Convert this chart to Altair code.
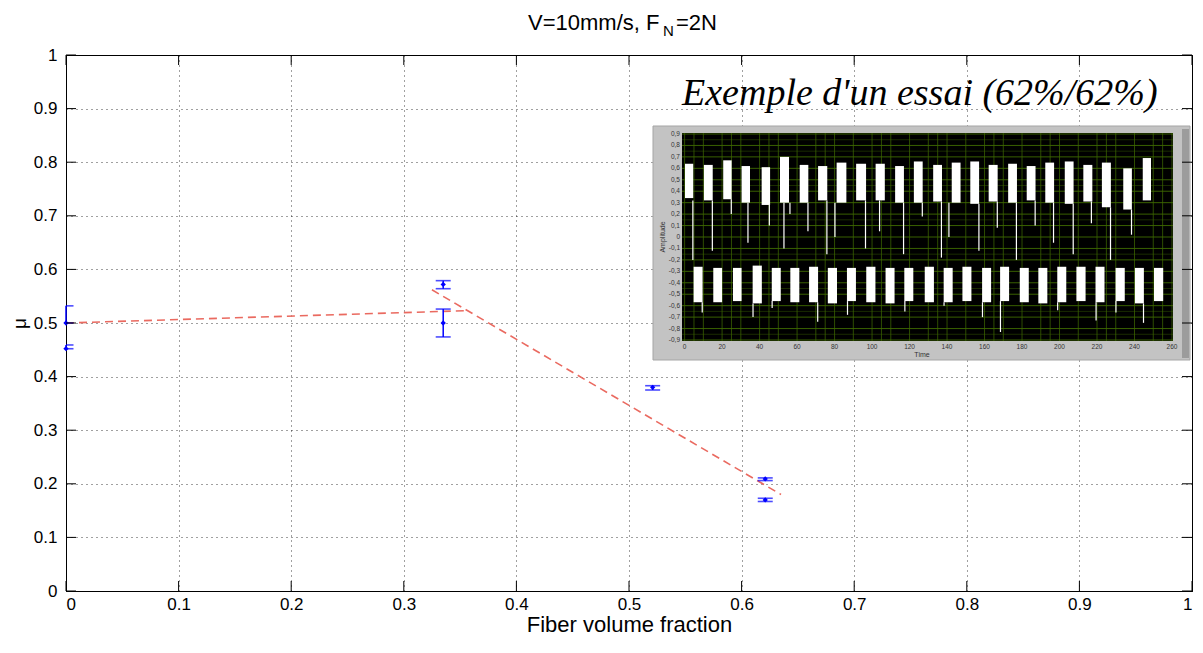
import altair as alt
import pandas as pd

# ---------------- main plot data ----------------
pt_x = [0.0, 0.0, 0.335, 0.335, 0.521, 0.621, 0.621]
pt_y = [0.500, 0.452, 0.572, 0.500, 0.380, 0.209, 0.170]
pt_lo = [0.500, 0.452, 0.564, 0.474, 0.375, 0.206, 0.167]
pt_hi = [0.532, 0.459, 0.579, 0.526, 0.383, 0.211, 0.173]

fit1_x = [0.0, 0.355]
fit1_y = [0.500, 0.523]
fit2_x = [0.325, 0.635]
fit2_y = [0.562, 0.180]

tick_vals = [0, 0.1, 0.2, 0.3, 0.4, 0.5, 0.6, 0.7, 0.8, 0.9, 1]

title_main = "V=10mm/s, F"
title_sub = "N"
title_end = "=2N"
x_title = "Fiber volume fraction"
y_title = "\u03bc"
inset_title = "Exemple d'un essai (62%/62%)"

# ---------------- inset (signal screenshot) data ----------------
up_t0 = [0.2, 10.3, 20.6, 30.4, 41.1, 50.9, 61.4, 71.2, 81.1, 91.5, 101.9, 112.3, 122.3,
         132.6, 142.5, 152.4, 162.2, 172.6, 182.5, 192.4, 202.8, 212.7, 222.6, 234.0, 244.4]
up_t1 = [4.6, 15.0, 25.1, 34.9, 45.6, 55.7, 66.0, 76.1, 86.3, 96.8, 106.8, 117.0, 127.0,
         137.3, 147.2, 157.1, 167.0, 177.3, 187.2, 197.1, 207.5, 217.5, 227.4, 238.6, 248.8]
up_top = [0.64, 0.63, 0.67, 0.62, 0.61, 0.70, 0.63, 0.62, 0.65, 0.64, 0.64, 0.62, 0.66,
          0.63, 0.65, 0.66, 0.63, 0.64, 0.62, 0.65, 0.66, 0.63, 0.65, 0.60, 0.69]
up_bot = [0.34, 0.32, 0.33, 0.30, 0.28, 0.30, 0.30, 0.32, 0.30, 0.32, 0.32, 0.30, 0.30,
          0.31, 0.30, 0.29, 0.31, 0.30, 0.32, 0.30, 0.29, 0.31, 0.26, 0.24, 0.32]

lo_t0 = [4.8, 15.3, 25.8, 36.3, 46.5, 56.4, 66.4, 76.4, 86.6, 96.9, 107.2, 117.2, 128.1,
         138.2, 148.2, 158.7, 168.3, 178.8, 188.7, 198.8, 209.0, 219.2, 229.9, 240.2, 250.4]
lo_t1 = [9.6, 20.0, 30.4, 41.2, 51.3, 61.2, 71.2, 81.3, 91.4, 101.8, 112.0, 122.0, 133.0,
         143.0, 153.0, 163.5, 173.1, 183.6, 193.5, 203.6, 213.9, 224.0, 234.8, 245.0, 255.3]
lo_top = [-0.26, -0.27, -0.27, -0.25, -0.27, -0.27, -0.26, -0.27, -0.27, -0.26, -0.27, -0.27, -0.26,
          -0.27, -0.26, -0.27, -0.26, -0.27, -0.27, -0.26, -0.26, -0.26, -0.27, -0.27, -0.27]
lo_bot = [-0.57, -0.57, -0.56, -0.58, -0.56, -0.57, -0.57, -0.58, -0.56, -0.57, -0.58, -0.56, -0.57,
          -0.57, -0.56, -0.57, -0.56, -0.57, -0.58, -0.57, -0.56, -0.57, -0.56, -0.58, -0.56]

# thin spikes (time, from, to)
sp_t = [4.4, 14.8, 24.9, 33.8, 45.2, 53.0, 56.2, 65.8, 75.9, 80.2, 96.5, 104.0, 116.8, 126.8,
        137.0, 141.0, 157.0, 166.8, 177.0, 187.0, 196.8, 207.3, 217.0, 227.2, 238.4,
        9.4, 36.5, 46.7, 71.0, 86.9, 117.5, 138.4, 158.9, 168.5, 199.0, 219.5, 230.1, 244.8]
sp_a1 = [0.32, 0.32, 0.33, 0.30, 0.28, 0.30, 0.30, 0.30, 0.32, 0.30, 0.32, 0.32, 0.30, 0.30,
         0.31, 0.30, 0.29, 0.31, 0.30, 0.32, 0.30, 0.29, 0.31, 0.26, 0.24,
         -0.57, -0.58, -0.56, -0.57, -0.56, -0.56, -0.57, -0.57, -0.56, -0.57, -0.57, -0.56, -0.58]
sp_a2 = [-0.20, -0.12, 0.20, -0.05, 0.10, -0.10, 0.20, 0.05, -0.15, 0.00, -0.10, 0.05, -0.15, 0.18,
         -0.18, 0.00, -0.12, 0.08, -0.20, 0.10, -0.05, -0.15, 0.12, -0.20, 0.02,
         -0.66, -0.70, -0.62, -0.74, -0.68, -0.65, -0.60, -0.70, -0.83, -0.64, -0.73, -0.66, -0.75]

amp_ticks = [0.9, 0.8, 0.7, 0.6, 0.5, 0.4, 0.3, 0.2, 0.1, 0, -0.1, -0.2, -0.3, -0.4, -0.5,
             -0.6, -0.7, -0.8, -0.9]
amp_labels = ["0,9", "0,8", "0,7", "0,6", "0,5", "0,4", "0,3", "0,2", "0,1", "0", "-0,1", "-0,2",
              "-0,3", "-0,4", "-0,5", "-0,6", "-0,7", "-0,8", "-0,9"]
time_ticks = [0, 20, 40, 60, 80, 100, 120, 140, 160, 180, 200, 220, 240, 260]
time_grid = [0, 5, 10, 20, 25, 30, 40, 45, 50, 60, 70, 75, 80, 90, 100, 105, 110, 120, 130,
             135, 140, 150, 160, 165, 170, 180, 190, 195, 200, 210, 220, 225, 230, 240, 250, 255, 260]
amp_grid = [0.85, 0.75, 0.45, 0.15, -0.15, -0.45, -0.65, -0.85]

# ---------------- build ----------------
W, H = 1126, 536
FONT = "Liberation Sans"
BLUE = "#0000ff"
GREEN = "#3f6a00"

xs = alt.Scale(domain=[0, 1], nice=False, zero=False)
ys = alt.Scale(domain=[0, 1], nice=False, zero=False)

df_pts = pd.DataFrame({"x": pt_x, "y": pt_y, "lo": pt_lo, "hi": pt_hi})
df_fit = pd.DataFrame({
    "x": fit1_x + fit2_x,
    "y": fit1_y + fit2_y,
    "g": ["a"] * len(fit1_x) + ["b"] * len(fit2_x),
})
df_ticks = pd.DataFrame({"v": tick_vals})
one = pd.DataFrame({"k": [0]})

xaxis = alt.Axis(values=tick_vals, format="~g", grid=True, ticks=False, labelPadding=5,
                 title=x_title, titlePadding=2, titleFontSize=22, domain=True)
yaxis = alt.Axis(values=tick_vals, format="~g", grid=True, ticks=False, labelPadding=9,
                 title=y_title, titlePadding=4, titleFontSize=19, domain=True, titleAngle=-90)

base = alt.Chart(df_ticks).mark_point(opacity=0).encode(
    x=alt.X("v:Q", scale=xs, axis=xaxis),
    y=alt.Y("v:Q", scale=ys, axis=yaxis),
)

# ---- inset ----
ts = alt.Scale(domain=[0, 260], range=[618.6, 1106], nice=False, zero=False)
as_ = alt.Scale(domain=[-0.9, 0.9], range=[285, 79], nice=False, zero=False)

df_up = pd.DataFrame({"t0": up_t0, "t1": up_t1, "a0": up_bot, "a1": up_top})
df_lo = pd.DataFrame({"t0": lo_t0, "t1": lo_t1, "a0": lo_bot, "a1": lo_top})
df_sp = pd.DataFrame({"t": sp_t, "a0": sp_a1, "a1": sp_a2})
df_amp = pd.DataFrame({"a": amp_ticks, "lab": amp_labels})
df_agrid = pd.DataFrame({"a": amp_grid})
df_time = pd.DataFrame({"t": time_ticks, "lab": [str(v) for v in time_ticks]})
df_tgrid = pd.DataFrame({"t": time_grid})

frame = alt.Chart(one).mark_rect(color="#c3c3c3", stroke="#a5a5a5", strokeWidth=1).encode(
    x=alt.value(587), x2=alt.value(1124), y=alt.value(71), y2=alt.value(305))
strip = alt.Chart(one).mark_rect(color="#9c9c9c").encode(
    x=alt.value(1116), x2=alt.value(1123), y=alt.value(74), y2=alt.value(303))
panel = alt.Chart(one).mark_rect(color="#000000").encode(
    x=alt.value(616), x2=alt.value(1107), y=alt.value(78), y2=alt.value(286))
hgrid = alt.Chart(df_amp).mark_rule(color=GREEN, strokeWidth=1, opacity=0.9).encode(
    y=alt.Y("a:Q", scale=as_, axis=None), x=alt.value(616), x2=alt.value(1107))
hgrid2 = alt.Chart(df_agrid).mark_rule(color=GREEN, strokeWidth=0.7, opacity=0.6).encode(
    y=alt.Y("a:Q", scale=as_, axis=None), x=alt.value(616), x2=alt.value(1107))
vgrid = alt.Chart(df_tgrid).mark_rule(color=GREEN, strokeWidth=0.9, opacity=0.8).encode(
    x=alt.X("t:Q", scale=ts, axis=None), y=alt.value(78), y2=alt.value(286))
ups = alt.Chart(df_up).mark_rect(color="white").encode(
    x=alt.X("t0:Q", scale=ts, axis=None), x2="t1:Q",
    y=alt.Y("a0:Q", scale=as_, axis=None), y2="a1:Q")
lows = alt.Chart(df_lo).mark_rect(color="white").encode(
    x=alt.X("t0:Q", scale=ts, axis=None), x2="t1:Q",
    y=alt.Y("a0:Q", scale=as_, axis=None), y2="a1:Q")
spikes = alt.Chart(df_sp).mark_rule(color="white", strokeWidth=1.2).encode(
    x=alt.X("t:Q", scale=ts, axis=None),
    y=alt.Y("a0:Q", scale=as_, axis=None), y2="a1:Q")
amp_txt = alt.Chart(df_amp).mark_text(align="right", baseline="middle", fontSize=6.5,
                                      font=FONT, color="#333333").encode(
    y=alt.Y("a:Q", scale=as_, axis=None), x=alt.value(614), text="lab:N")
time_txt = alt.Chart(df_time).mark_text(align="center", baseline="top", fontSize=6.5,
                                        font=FONT, color="#333333").encode(
    x=alt.X("t:Q", scale=ts, axis=None), y=alt.value(289), text="lab:N")
time_lab = alt.Chart(pd.DataFrame({"s": ["Time"]})).mark_text(
    fontSize=7, font=FONT, color="#333333", baseline="top").encode(
    x=alt.value(856), y=alt.value(296), text="s:N")
amp_lab = alt.Chart(pd.DataFrame({"s": ["Amplitude"]})).mark_text(
    fontSize=7, font=FONT, color="#333333", angle=270).encode(
    x=alt.value(597), y=alt.value(182), text="s:N")

inset = alt.layer(frame, strip, panel, hgrid2, hgrid, vgrid, ups, lows, spikes,
                  amp_txt, time_txt, time_lab, amp_lab)

# ---- data layers ----
fits = alt.Chart(df_fit).mark_line(color="#ea6a60", strokeWidth=1.6,
                                   strokeDash=[8, 5], clip=True).encode(
    x=alt.X("x:Q", scale=xs, axis=None),
    y=alt.Y("y:Q", scale=ys, axis=None),
    detail="g:N")
ebars = alt.Chart(df_pts).mark_rule(color=BLUE, strokeWidth=1.5).encode(
    x=alt.X("x:Q", scale=xs, axis=None),
    y=alt.Y("lo:Q", scale=ys, axis=None), y2="hi:Q")
cap_lo = alt.Chart(df_pts).mark_tick(color=BLUE, orient="horizontal", size=15,
                                     thickness=1.6, clip=True).encode(
    x=alt.X("x:Q", scale=xs, axis=None), y=alt.Y("lo:Q", scale=ys, axis=None))
cap_hi = alt.Chart(df_pts).mark_tick(color=BLUE, orient="horizontal", size=15,
                                     thickness=1.6, clip=True).encode(
    x=alt.X("x:Q", scale=xs, axis=None), y=alt.Y("hi:Q", scale=ys, axis=None))
dots = alt.Chart(df_pts).mark_point(color=BLUE, filled=True, size=28, shape="diamond",
                                    opacity=1).encode(
    x=alt.X("x:Q", scale=xs, axis=None), y=alt.Y("y:Q", scale=ys, axis=None))

tk_b = alt.Chart(df_ticks).mark_rule(color="black", strokeWidth=1).encode(
    x=alt.X("v:Q", scale=xs, axis=None), y=alt.value(H), y2=alt.value(H - 10))
tk_t = alt.Chart(df_ticks).mark_rule(color="black", strokeWidth=1).encode(
    x=alt.X("v:Q", scale=xs, axis=None), y=alt.value(0), y2=alt.value(10))
tk_l = alt.Chart(df_ticks).mark_rule(color="black", strokeWidth=1).encode(
    y=alt.Y("v:Q", scale=ys, axis=None), x=alt.value(0), x2=alt.value(10))
tk_r = alt.Chart(df_ticks).mark_rule(color="black", strokeWidth=1).encode(
    y=alt.Y("v:Q", scale=ys, axis=None), x=alt.value(W), x2=alt.value(W - 10))

t1 = alt.Chart(pd.DataFrame({"s": [title_main]})).mark_text(
    align="left", baseline="alphabetic", fontSize=22, font=FONT, color="black").encode(
    x=alt.value(462), y=alt.value(-25), text="s:N")
t2 = alt.Chart(pd.DataFrame({"s": [title_sub]})).mark_text(
    align="left", baseline="alphabetic", fontSize=15, font=FONT, color="black").encode(
    x=alt.value(597), y=alt.value(-19), text="s:N")
t3 = alt.Chart(pd.DataFrame({"s": [title_end]})).mark_text(
    align="left", baseline="alphabetic", fontSize=22, font=FONT, color="black").encode(
    x=alt.value(610), y=alt.value(-25), text="s:N")
t_in = alt.Chart(pd.DataFrame({"s": [inset_title]})).mark_text(
    align="left", baseline="alphabetic", fontSize=38, font="Liberation Serif",
    fontStyle="italic", color="black").encode(
    x=alt.value(616), y=alt.value(50), text="s:N")

data_layer = alt.layer(fits, ebars, cap_lo, cap_hi, dots, tk_b, tk_t, tk_l, tk_r,
                       t1, t2, t3, t_in)

chart = alt.layer(base, inset, data_layer).resolve_scale(
    x="independent", y="independent"
).properties(
    width=W, height=H,
    autosize=alt.AutoSizeParams(type="none"),
    padding={"left": 58, "top": 47, "right": 3, "bottom": 45},
).configure_view(
    stroke="black", strokeWidth=1
).configure_axis(
    labelFont=FONT, titleFont=FONT, labelFontSize=17, titleFontSize=21,
    labelColor="black", titleColor="black", domainColor="black", domainWidth=1,
    gridColor="black", gridDash=[1, 4], gridWidth=1, gridOpacity=0.75,
    titleFontWeight="normal",
)

chart.save("out.html", embed_options={"renderer": "svg", "actions": False})
